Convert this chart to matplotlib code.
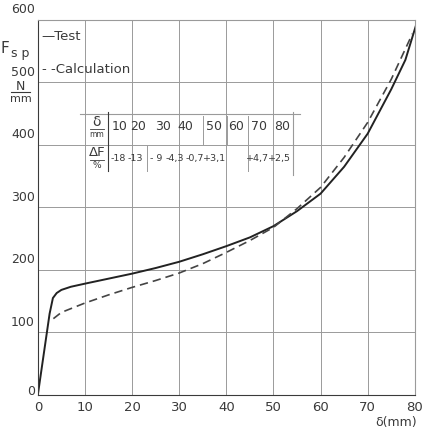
import matplotlib
matplotlib.use("Agg")
import matplotlib.pyplot as plt

plt.rcParams.update({"font.family": ["DejaVu Sans"], "font.size": 9})
INK = "#3a3a3a"; GRID = "#9a9a9a"

# measured curves (delta in mm, F_sp in N/mm)
test_x = [0, 2.5, 3.2, 4, 5, 7, 10, 15, 20, 25, 30, 35, 40, 45, 50, 55, 60, 65, 70, 75, 78, 80.2]
test_y = [0, 130, 155, 163, 168, 173, 178, 186, 194, 203, 213, 225, 238, 252, 270, 294, 322, 365, 418, 489, 536, 590]
calc_x = [3.3, 5, 10, 15, 20, 25, 30, 35, 40, 45, 50, 55, 60, 65, 70, 75, 79.5]
calc_y = [122, 132, 147, 160, 172, 183, 195, 210, 228, 247, 268, 298, 332, 380, 436, 505, 578]

# inset table
tab_delta = ["10", "20", "30", "40", "50", "60", "70", "80"]
tab_dF = ["-18", "-13", "- 9", "-4,3", "-0,7", "+3,1", "+4,7", "+2,5"]
delta_xpos = [17.4, 21.2, 26.5, 31.2, 37.4, 42.0, 46.9, 51.8]
dF_xpos = [17.0, 20.6, 25.2, 29.0, 33.2, 37.4, 46.6, 51.2]
sep_row1 = [35.0, 40.1, 44.6]
sep_row2 = [23.1, 44.6]

xticks = [0, 10, 20, 30, 40, 50, 60, 70, 80]
yticks = [0, 100, 200, 300, 400, 500, 600]

fig = plt.figure(figsize=(4.25, 4.33), dpi=100)
ax = fig.add_axes([0.089, 0.088, 0.887, 0.866])
ax.set_xlim(0, 80)
ax.set_ylim(0, 600)

for x in xticks[1:]:
    ax.axvline(x, color=GRID, lw=0.7, zorder=0)
for y in yticks[1:]:
    ax.axhline(y, color=GRID, lw=0.7, zorder=0)
for s in ax.spines.values():
    s.set_color(GRID); s.set_linewidth(0.8)
ax.spines["left"].set_color(INK); ax.spines["bottom"].set_color(INK)

ax.plot(test_x, test_y, color="#222", lw=1.4, label="Test")
ax.plot(calc_x, calc_y, color="#444", lw=1.2, ls=(0, (5, 3)), label="Calculation")

ax.set_xticks(xticks); ax.set_yticks(yticks)
ax.tick_params(length=0)
ax.set_xticklabels([])
ax.set_yticklabels([])
for x in xticks:
    ax.text(x, -9, str(x), ha="center", va="top", color=INK, fontsize=9.5, clip_on=False)
for y in yticks:
    ax.text(-0.6, y + 6, str(y), ha="right", va="bottom" if y else "center", color=INK,
            fontsize=9, clip_on=False)
ax.text(80.4, -34, "δ(mm)", ha="right", va="top", color=INK, fontsize=9, clip_on=False)

# y label
ax.text(-8.0, 555, "F", ha="left", va="center", color=INK, fontsize=11, clip_on=False)
ax.text(-5.7, 547, "s p", ha="left", va="center", color=INK, fontsize=9, clip_on=False)
ax.text(-3.6, 493, "N", ha="center", va="center", color=INK, fontsize=9, clip_on=False)
ax.plot([-5.6, -1.6], [484, 484], color=INK, lw=0.8, clip_on=False)
ax.text(-3.6, 473, "mm", ha="center", va="center", color=INK, fontsize=8, clip_on=False)

# legend text
ax.text(0.8, 573, "—Test", ha="left", va="center", color=INK, fontsize=9.5)
ax.text(0.8, 520, "- -Calculation", ha="left", va="center", color=INK, fontsize=9.5)

# inset table
ax.plot([9, 55.6], [450, 450], color=GRID, lw=0.8)
ax.plot([14.9, 14.9], [452, 358], color=INK, lw=0.8)
ax.plot([54.2, 54.2], [452, 352], color=GRID, lw=0.8)
for x in sep_row1:
    ax.plot([x, x], [446, 402], color=GRID, lw=0.7)
for x in sep_row2:
    ax.plot([x, x], [398, 358], color=GRID, lw=0.7)
ax.text(12.5, 437, "δ", ha="center", va="center", color=INK, fontsize=10)
ax.plot([11.0, 14.0], [425, 425], color=INK, lw=0.6)
ax.text(12.5, 417, "mm", ha="center", va="center", color=INK, fontsize=5.5)
ax.text(12.5, 388, "ΔF", ha="center", va="center", color=INK, fontsize=9.5)
ax.plot([11.0, 14.0], [376, 376], color=INK, lw=0.6)
ax.text(12.5, 367, "%", ha="center", va="center", color=INK, fontsize=6.5)
for x, a in zip(delta_xpos, tab_delta):
    ax.text(x, 429, a, ha="center", va="center", color=INK, fontsize=9)
for x, b in zip(dF_xpos, tab_dF):
    ax.text(x, 379, b, ha="center", va="center", color=INK, fontsize=6.8)

fig.savefig("out.png", dpi=100, facecolor="white")
